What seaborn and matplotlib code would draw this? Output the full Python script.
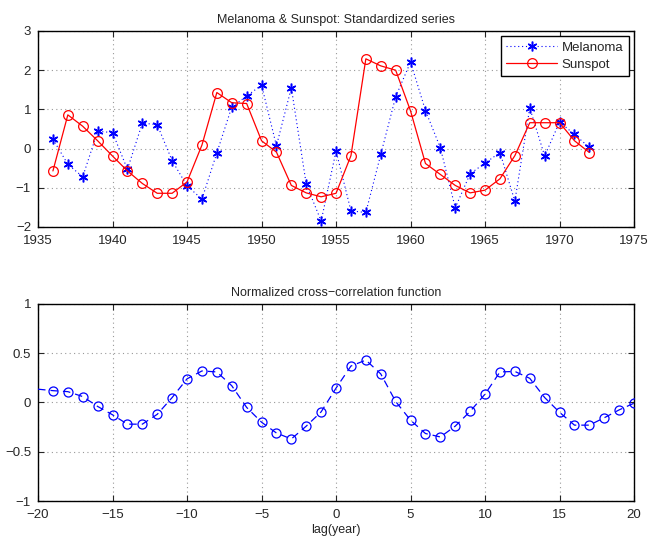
import matplotlib
matplotlib.use("Agg")
import matplotlib.pyplot as plt
import seaborn as sns
import numpy as np
import pandas as pd

years = list(range(1936, 1973))
melanoma = [0.24, -0.40, -0.72, 0.44, 0.41, -0.53, 0.65, 0.61, -0.31, -0.95,
            -1.29, -0.11, 1.06, 1.34, 1.62, 0.07, 1.55, -0.91, -1.85, -0.06,
            -1.59, -1.63, -0.15, 1.32, 2.21, 0.97, 0.02, -1.51, -0.64, -0.37,
            -0.10, -1.34, 1.04, -0.19, 0.68, 0.36, 0.03]
sunspot = [-0.57, 0.86, 0.57, 0.20, -0.19, -0.57, -0.89, -1.14, -1.14, -0.85,
           0.09, 1.43, 1.17, 1.15, 0.20, -0.09, -0.94, -1.13, -1.23, -1.14,
           -0.18, 2.29, 2.11, 2.00, 0.96, -0.38, -0.66, -0.94, -1.13, -1.06,
           -0.77, -0.18, 0.66, 0.66, 0.66, 0.20, -0.10]

lags = list(range(-20, 21))
xcorr = [0.135, 0.12, 0.11, 0.06, -0.04, -0.125, -0.22, -0.22, -0.12, 0.05,
         0.24, 0.32, 0.31, 0.17, -0.05, -0.20, -0.31, -0.37, -0.24, -0.095,
         0.146, 0.37, 0.43, 0.29, 0.01, -0.18, -0.315, -0.35, -0.24, -0.09,
         0.085, 0.31, 0.315, 0.245, 0.05, -0.10, -0.23, -0.23, -0.155, -0.075,
         -0.007]

top_title = "Melanoma & Sunspot: Standardized series"
bottom_title = "Normalized cross\u2212correlation function"
bottom_xlabel = "lag(year)"

sns.set_style("ticks")
plt.rcParams['font.family'] = ['Liberation Sans', 'DejaVu Sans']
plt.rcParams['axes.unicode_minus'] = True

fig = plt.figure(figsize=(6.5, 5.37), dpi=100)
ax1 = fig.add_axes([0.0585, 0.5773, 0.917, 0.365])
ax2 = fig.add_axes([0.0585, 0.067, 0.917, 0.367])

asterisk = (6, 2, 0)

df = pd.DataFrame({"year": years, "Melanoma": melanoma, "Sunspot": sunspot})
sns.lineplot(data=df, x="year", y="Melanoma", ax=ax1, color=(0, 0, 1),
             linestyle=(0, (1, 2.5)), linewidth=0.8, marker=asterisk, markersize=7,
             markeredgecolor=(0, 0, 1), markerfacecolor=(0, 0, 1),
             markeredgewidth=1.1, label="Melanoma", zorder=3)
sns.lineplot(data=df, x="year", y="Sunspot", ax=ax1, color=(1, 0, 0),
             linestyle="-", linewidth=0.9, marker="o", markersize=7,
             markeredgecolor=(1, 0, 0), markerfacecolor="none",
             markeredgewidth=0.9, label="Sunspot", zorder=3)

ax1.set_xlim(1935, 1975)
ax1.set_ylim(-2, 3)
ax1.set_xticks(range(1935, 1976, 5))
ax1.set_yticks(range(-2, 4))
ax1.set_xlabel("")
ax1.set_ylabel("")
ax1.set_title(top_title, fontsize=9, pad=6)
leg = ax1.legend(loc="upper right", fancybox=False, edgecolor="black",
                 framealpha=1, fontsize=9.5, borderaxespad=0.4,
                 handlelength=3.8, handletextpad=0.4, borderpad=0.4,
                 labelspacing=0.35)
leg.get_frame().set_linewidth(1.0)

dfc = pd.DataFrame({"lag": lags, "xcorr": xcorr})
sns.lineplot(data=dfc, x="lag", y="xcorr", ax=ax2, color=(0, 0, 1),
             linestyle=(0, (6, 4)), linewidth=0.9, marker="o", markersize=6.5,
             markeredgecolor=(0, 0, 1), markerfacecolor="none",
             markeredgewidth=0.9, markevery=list(range(1, len(lags))), zorder=3)
ax2.set_xlim(-20, 20)
ax2.set_ylim(-1, 1)
ax2.set_xticks(range(-20, 21, 5))
ax2.set_yticks([-1, -0.5, 0, 0.5, 1])
ax2.set_yticklabels(["\u22121", "\u22120.5", "0", "0.5", "1"])
ax2.set_xlabel(bottom_xlabel, fontsize=9, labelpad=2)
ax2.set_ylabel("")
ax2.set_title(bottom_title, fontsize=9, pad=6)

for ax in (ax1, ax2):
    ax.grid(True, linestyle=(0, (1, 3)), color="#999999", linewidth=0.8)
    ax.set_axisbelow(True)
    ax.tick_params(direction="in", length=4, width=0.8, labelsize=9.5,
                   top=True, right=True)
    ax.tick_params(axis="x", pad=6)
    ax.tick_params(axis="y", pad=5)
    for s in ax.spines.values():
        s.set_visible(True)
        s.set_linewidth(1.0)
        s.set_color("black")

fig.savefig("out.png", dpi=100)
